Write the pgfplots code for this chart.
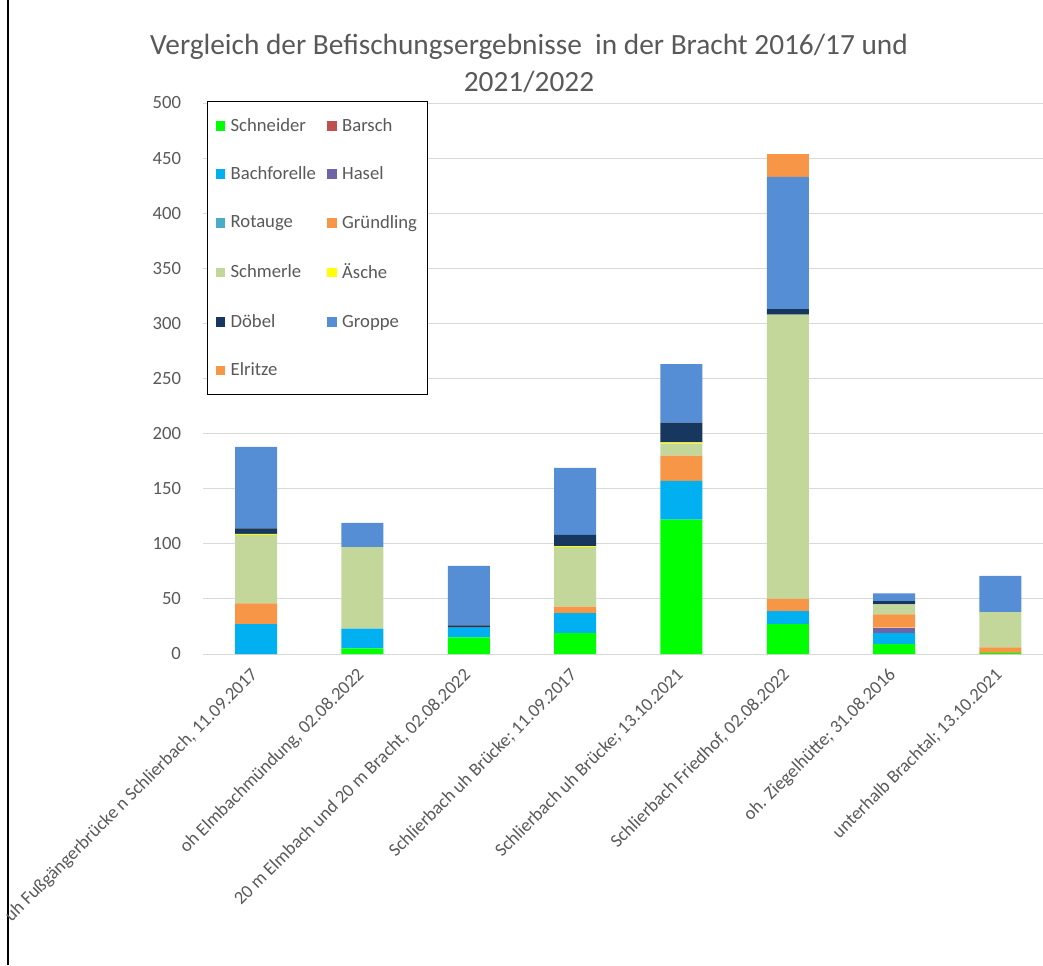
\documentclass[border=0pt]{standalone}
\usepackage{fontspec}
\setmainfont{Carlito}
\usepackage{pgfplots}
\pgfplotsset{compat=1.18}
\definecolor{txt}{HTML}{595959}
\definecolor{gridc}{HTML}{D9D9D9}
\definecolor{cSchneider}{HTML}{00FF00}
\definecolor{cBarsch}{HTML}{C0504D}
\definecolor{cBachforelle}{HTML}{00B0F0}
\definecolor{cHasel}{HTML}{7064A8}
\definecolor{cRotauge}{HTML}{4BACC6}
\definecolor{cGruendling}{HTML}{F79646}
\definecolor{cSchmerle}{HTML}{C4D79B}
\definecolor{cAesche}{HTML}{FFFF00}
\definecolor{cDoebel}{HTML}{17375E}
\definecolor{cGroppe}{HTML}{558ED5}
\definecolor{cElritze}{HTML}{F79646}
\begin{document}
\begin{tikzpicture}
\useasboundingbox (0pt,0pt) rectangle (782.25pt,723.75pt);
\clip (0pt,0pt) rectangle (782.25pt,723.75pt);
\draw[black, line width=0.8pt] (6pt,0pt) -- (6pt,723.75pt);
\node[text=txt, font=\fontsize{22}{27.75}\selectfont, align=center] at (396.75pt,676.1pt)
  {Vergleich der Befischungsergebnisse\ \ in der Bracht 2016/17 und\\2021/2022};
\begin{axis}[
  at={(152.25pt,233.25pt)}, anchor=south west,
  scale only axis, width=630pt, height=413.25pt,
  ybar stacked, bar width=31.5pt,
  xmin=-0.5, xmax=7.4, ymin=0, ymax=500,
  ytick={0,50,...,500},
  xtick={0,1,2,3,4,5,6,7},
  xticklabels={{uh Fußgängerbrücke n Schlierbach, 11.09.2017},
    {oh Elmbachmündung, 02.08.2022},
    {20 m Elmbach und 20 m Bracht, 02.08.2022},
    {Schlierbach uh Brücke; 11.09.2017},
    {Schlierbach uh Brücke; 13.10.2021},
    {Schlierbach Friedhof, 02.08.2022},
    {oh. Ziegelhütte; 31.08.2016},
    {unterhalb Brachtal; 13.10.2021}},
  axis line style={draw=none},
  tick style={draw=none},
  ymajorgrids, grid style={color=gridc, line width=0.75pt},
  /pgf/number format/assume math mode=true,
  yticklabel style={text=txt, font=\fontsize{14}{16.8}\selectfont, xshift=-13pt},
  xticklabel style={text=txt, font=\fontsize{13.8}{16.5}\selectfont, xshift=0pt, yshift=-12.75pt, rotate=45, anchor=east, inner sep=1pt},
  legend columns=2,
  legend cell align=left,
  legend image code/.code={\fill[#1,draw=none] (0pt,-3.6pt) rectangle (7.2pt,3.6pt);},
  legend style={at={(0.005,1.0036)}, anchor=north west, draw=black, line width=0.8pt,
    fill=white, text=txt, font=\fontsize{14}{16.8}\selectfont,
    row sep=22.2pt, inner xsep=6pt, inner ysep=11pt,
    /tikz/column 1/.style={column sep=2.5pt},
    /tikz/column 2/.style={column sep=7pt},
    /tikz/column 3/.style={column sep=2.5pt},
    nodes={inner sep=1.5pt}},
  every axis plot/.append style={draw=none, line width=0pt},
]
\addplot[fill=cSchneider] coordinates {(0,0) (1,5) (2,15) (3,19) (4,122) (5,27) (6,9) (7,1)};
\addlegendentry{Schneider}
\addplot[fill=cBarsch] coordinates {(0,0) (1,0) (2,0) (3,0) (4,0) (5,0) (6,0) (7,0)};
\addlegendentry{Barsch}
\addplot[fill=cBachforelle] coordinates {(0,27) (1,18) (2,9) (3,18) (4,35) (5,12) (6,10) (7,0)};
\addlegendentry{Bachforelle}
\addplot[fill=cHasel] coordinates {(0,0) (1,0) (2,0) (3,0) (4,0) (5,0) (6,5) (7,0)};
\addlegendentry{Hasel}
\addplot[fill=cRotauge] coordinates {(0,0) (1,0) (2,0) (3,0) (4,0) (5,0) (6,0) (7,0)};
\addlegendentry{Rotauge}
\addplot[fill=cGruendling] coordinates {(0,19) (1,0) (2,0) (3,6) (4,23) (5,11) (6,12) (7,5)};
\addlegendentry{Gründling}
\addplot[fill=cSchmerle] coordinates {(0,62) (1,74) (2,0) (3,54) (4,11) (5,258) (6,9) (7,32)};
\addlegendentry{Schmerle}
\addplot[fill=cAesche] coordinates {(0,1) (1,0) (2,0) (3,1) (4,1) (5,0) (6,0) (7,0)};
\addlegendentry{Äsche}
\addplot[fill=cDoebel] coordinates {(0,5) (1,0) (2,2) (3,10) (4,18) (5,5) (6,3) (7,0)};
\addlegendentry{Döbel}
\addplot[fill=cGroppe] coordinates {(0,74) (1,22) (2,54) (3,61) (4,53) (5,120) (6,7) (7,33)};
\addlegendentry{Groppe}
\addplot[fill=cElritze] coordinates {(0,0) (1,0) (2,0) (3,0) (4,0) (5,21) (6,0) (7,0)};
\addlegendentry{Elritze}
\end{axis}
\end{tikzpicture}
\end{document}
